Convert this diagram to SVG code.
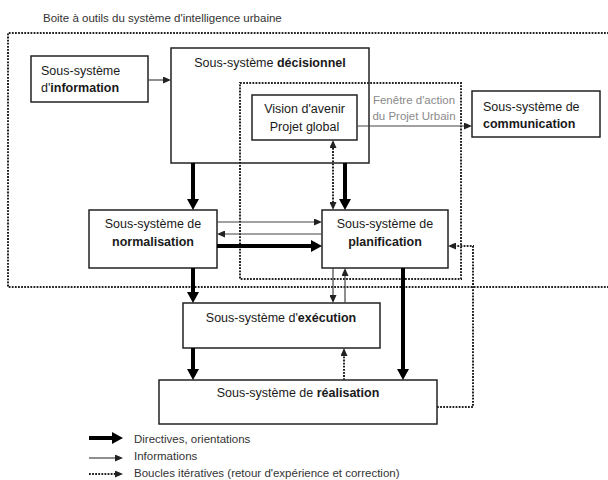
<svg xmlns="http://www.w3.org/2000/svg" width="608" height="480" viewBox="0 0 608 480">
<style>
text{font-family:"Liberation Sans",Arial,sans-serif;fill:#1a1a1a}
.lbl{font-size:12.5px}
.b{font-weight:bold}
.small{font-size:11.5px;fill:#333}
.gray{font-size:11.5px;fill:#8a8a8a}
.box{fill:#fff;stroke:#222;stroke-width:1.5}
.thick{stroke:#000;stroke-width:4;fill:none}
.thin{stroke:#444;stroke-width:1.2;fill:none}
.dot{stroke:#222;stroke-width:2;stroke-dasharray:1.8 1.3;fill:none}
</style>
<defs>
<marker id="hk" markerUnits="userSpaceOnUse" viewBox="0 -6 11 12" markerWidth="11" markerHeight="12" refX="0" refY="0" orient="auto"><path d="M0,-6L11,0L0,6z" fill="#000"/></marker>
<marker id="hn" markerUnits="userSpaceOnUse" viewBox="0 -3.5 8 7" markerWidth="8" markerHeight="7" refX="0" refY="0" orient="auto"><path d="M0,-3.5L8,0L0,3.5z" fill="#222"/></marker>
<marker id="hs" markerUnits="userSpaceOnUse" viewBox="0 -3.5 8 7" markerWidth="8" markerHeight="7" refX="0" refY="0" orient="auto-start-reverse"><path d="M0,-3.5L8,0L0,3.5z" fill="#222"/></marker>
</defs>
<rect width="608" height="480" fill="#fff"/>
<text x="43" y="22" class="small">Boite à outils du système d'intelligence urbaine</text>
<path class="dot" d="M612,33H8V287H612"/>
<g id="information">
<rect x="31" y="56" width="117" height="46" class="box"/>
<text class="lbl" x="41" y="75">Sous-système</text>
<text class="lbl" x="41" y="92">d'<tspan class="b">information</tspan></text>
</g>
<g id="decisionnel">
<rect x="171" y="48" width="198" height="115" class="box"/>
<text class="lbl" x="270" y="67" text-anchor="middle">Sous-système <tspan class="b">décisionnel</tspan></text>
</g>
<g id="fenetre">
<rect x="240" y="83" width="221" height="196" class="dot"/>
<text class="gray" x="414" y="104" text-anchor="middle">Fenêtre d'action</text>
<text class="gray" x="414" y="120" text-anchor="middle">du Projet Urbain</text>
</g>
<g id="vision">
<rect x="252" y="95" width="105" height="45" class="box"/>
<text class="lbl" x="304.5" y="113" text-anchor="middle">Vision d'avenir</text>
<text class="lbl" x="304.5" y="131" text-anchor="middle">Projet global</text>
</g>
<g id="communication">
<rect x="472" y="91" width="128" height="46" class="box"/>
<text class="lbl" x="483" y="111">Sous-système de</text>
<text class="lbl b" x="483" y="128">communication</text>
</g>
<g id="normalisation">
<rect x="89" y="210" width="128" height="58" class="box"/>
<text class="lbl" x="153" y="228" text-anchor="middle">Sous-système de</text>
<text class="lbl b" x="153" y="246" text-anchor="middle">normalisation</text>
</g>
<g id="planification">
<rect x="322" y="210" width="126" height="58" class="box"/>
<text class="lbl" x="385" y="228" text-anchor="middle">Sous-système de</text>
<text class="lbl b" x="385" y="246" text-anchor="middle">planification</text>
</g>
<g id="execution">
<rect x="183" y="303" width="197" height="45" class="box"/>
<text class="lbl" x="281" y="322" text-anchor="middle">Sous-système d'<tspan class="b">exécution</tspan></text>
</g>
<g id="realisation">
<rect x="159" y="380" width="278" height="44" class="box"/>
<text class="lbl" x="298" y="397" text-anchor="middle">Sous-système de <tspan class="b">réalisation</tspan></text>
</g>
<g id="connectors">
<path class="thick" d="M193,163V199" marker-end="url(#hk)"/>
<path class="thick" d="M345,163V199" marker-end="url(#hk)"/>
<path class="thick" d="M217,246H311" marker-end="url(#hk)"/>
<path class="thick" d="M193,268V292" marker-end="url(#hk)"/>
<path class="thick" d="M193,348V369" marker-end="url(#hk)"/>
<path class="thick" d="M403,268V369" marker-end="url(#hk)"/>
<path class="thin" d="M148,80H163" marker-end="url(#hn)"/>
<path class="thin" d="M357,126H464" marker-end="url(#hn)"/>
<path class="thin" d="M217,222H314" marker-end="url(#hn)"/>
<path class="thin" d="M322,234H225" marker-end="url(#hn)"/>
<path class="thin" d="M333,268V295" marker-end="url(#hn)"/>
<path class="thin" d="M345,303V276" marker-end="url(#hn)"/>
<path class="dot" d="M333,148V202" marker-start="url(#hs)" marker-end="url(#hs)"/>
<path class="dot" d="M344,380V356" marker-end="url(#hn)"/>
<path class="dot" d="M437,407H473V246H456" marker-end="url(#hn)"/>
</g>
<g id="legend">
<path class="thick" d="M89,438H112" marker-end="url(#hk)"/>
<path class="thin" d="M89,458H115" marker-end="url(#hn)"/>
<path class="dot" d="M89,474H115" marker-end="url(#hn)"/>
<text class="small" x="134" y="443">Directives, orientations</text>
<text class="small" x="134" y="460">Informations</text>
<text class="small" x="134" y="477">Boucles itératives (retour d'expérience et correction)</text>
</g>
</svg>
